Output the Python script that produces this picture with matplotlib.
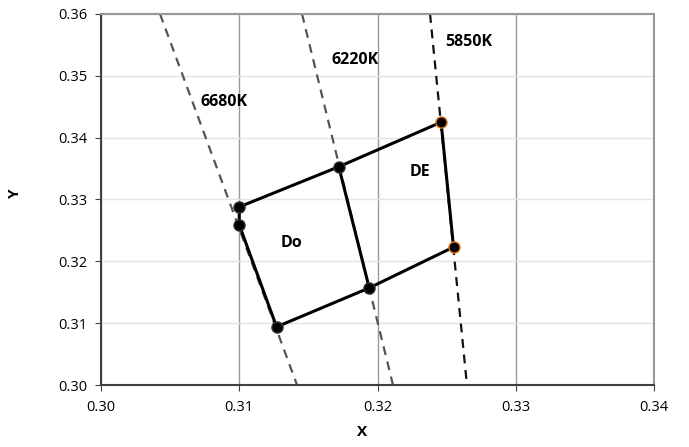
import matplotlib
matplotlib.use("Agg")
from matplotlib import pyplot as plt

plt.rcParams['font.family'] = ['Open Sans', 'DejaVu Sans']

# quadrilateral vertices (CIE x, y)
do_x = [0.3100, 0.3172, 0.3194, 0.3127, 0.3100, 0.3100]
do_y = [0.3288, 0.3353, 0.3157, 0.3094, 0.3259, 0.3288]
de_x = [0.3172, 0.3246, 0.3255, 0.3194]
de_y = [0.3353, 0.3425, 0.3223, 0.3157]

# isotemperature lines (top, bottom)
iso_names = ["6680K", "6220K", "5850K"]
iso_x = [[0.30427, 0.31418], [0.31454, 0.32112], [0.32380, 0.32647]]
iso_y = [[0.36, 0.30], [0.36, 0.30], [0.36, 0.30]]
iso_colors = ["#555555", "#555555", "#111111"]
iso_label_x = [0.3089, 0.3184, 0.3266]
iso_label_y = [0.3458, 0.3526, 0.3555]

region_names = ["Do", "DE"]
region_x = [0.3138, 0.3231]
region_y = [0.3230, 0.3345]

x_ticks = [0.30, 0.31, 0.32, 0.33, 0.34]
y_ticks = [0.30, 0.31, 0.32, 0.33, 0.34, 0.35, 0.36]

fig = plt.figure(figsize=(6.89, 4.47), dpi=100)
ax = fig.add_axes([0.1466, 0.1387, 0.8026, 0.8300])

for xs, ys, c in zip(iso_x, iso_y, iso_colors):
    ax.plot(xs, ys, color=c, linestyle=(0, (4, 3)), linewidth=1.6, zorder=2)

ax.plot(do_x, do_y, color='black', linewidth=2.2, zorder=3)
ax.plot(de_x, de_y, color='black', linewidth=2.2, zorder=3)

# markers
ax.plot(do_x[:5], do_y[:5], linestyle='none', marker='o', markersize=8,
        markerfacecolor='black', markeredgecolor='#333333', zorder=4)
ax.plot(de_x[1:3], de_y[1:3], linestyle='none', marker='o', markersize=8,
        markerfacecolor='black', markeredgecolor='#e07b20', markeredgewidth=1, zorder=4)

for name, lx, ly in zip(iso_names, iso_label_x, iso_label_y):
    ax.text(lx, ly, name, fontsize=11.5, fontweight='bold', ha='center', va='center')
for name, lx, ly in zip(region_names, region_x, region_y):
    ax.text(lx, ly, name, fontsize=11.5, fontweight='bold', ha='center', va='center')

ax.set_xlim(0.30, 0.34)
ax.set_ylim(0.30, 0.36)
ax.set_xticks(x_ticks)
ax.set_yticks(y_ticks)
ax.set_xticklabels([f"{v:.2f}" for v in x_ticks])
ax.set_yticklabels([f"{v:.2f}" for v in y_ticks])
ax.tick_params(labelsize=10.5, length=4, color='#404040', direction='out')
ax.tick_params(axis='x', pad=7)
ax.tick_params(axis='y', pad=6)

ax.xaxis.grid(True, color='#999999', linewidth=1)
ax.yaxis.grid(True, color='#dfe4ec', linewidth=1)
ax.set_axisbelow(True)

for side in ['left', 'bottom']:
    ax.spines[side].set_color('#404040')
    ax.spines[side].set_linewidth(1.5)
for side in ['top', 'right']:
    ax.spines[side].set_color('#999999')
    ax.spines[side].set_linewidth(1.5)

ax.set_xlabel("X", fontsize=11, fontweight='bold', va='center')
ax.set_ylabel("Y", fontsize=11, fontweight='bold', va='center')
ax.xaxis.set_label_coords(0.472, -0.127)
ax.yaxis.set_label_coords(-0.156, 0.517)

plt.savefig("out.png", dpi=100)
